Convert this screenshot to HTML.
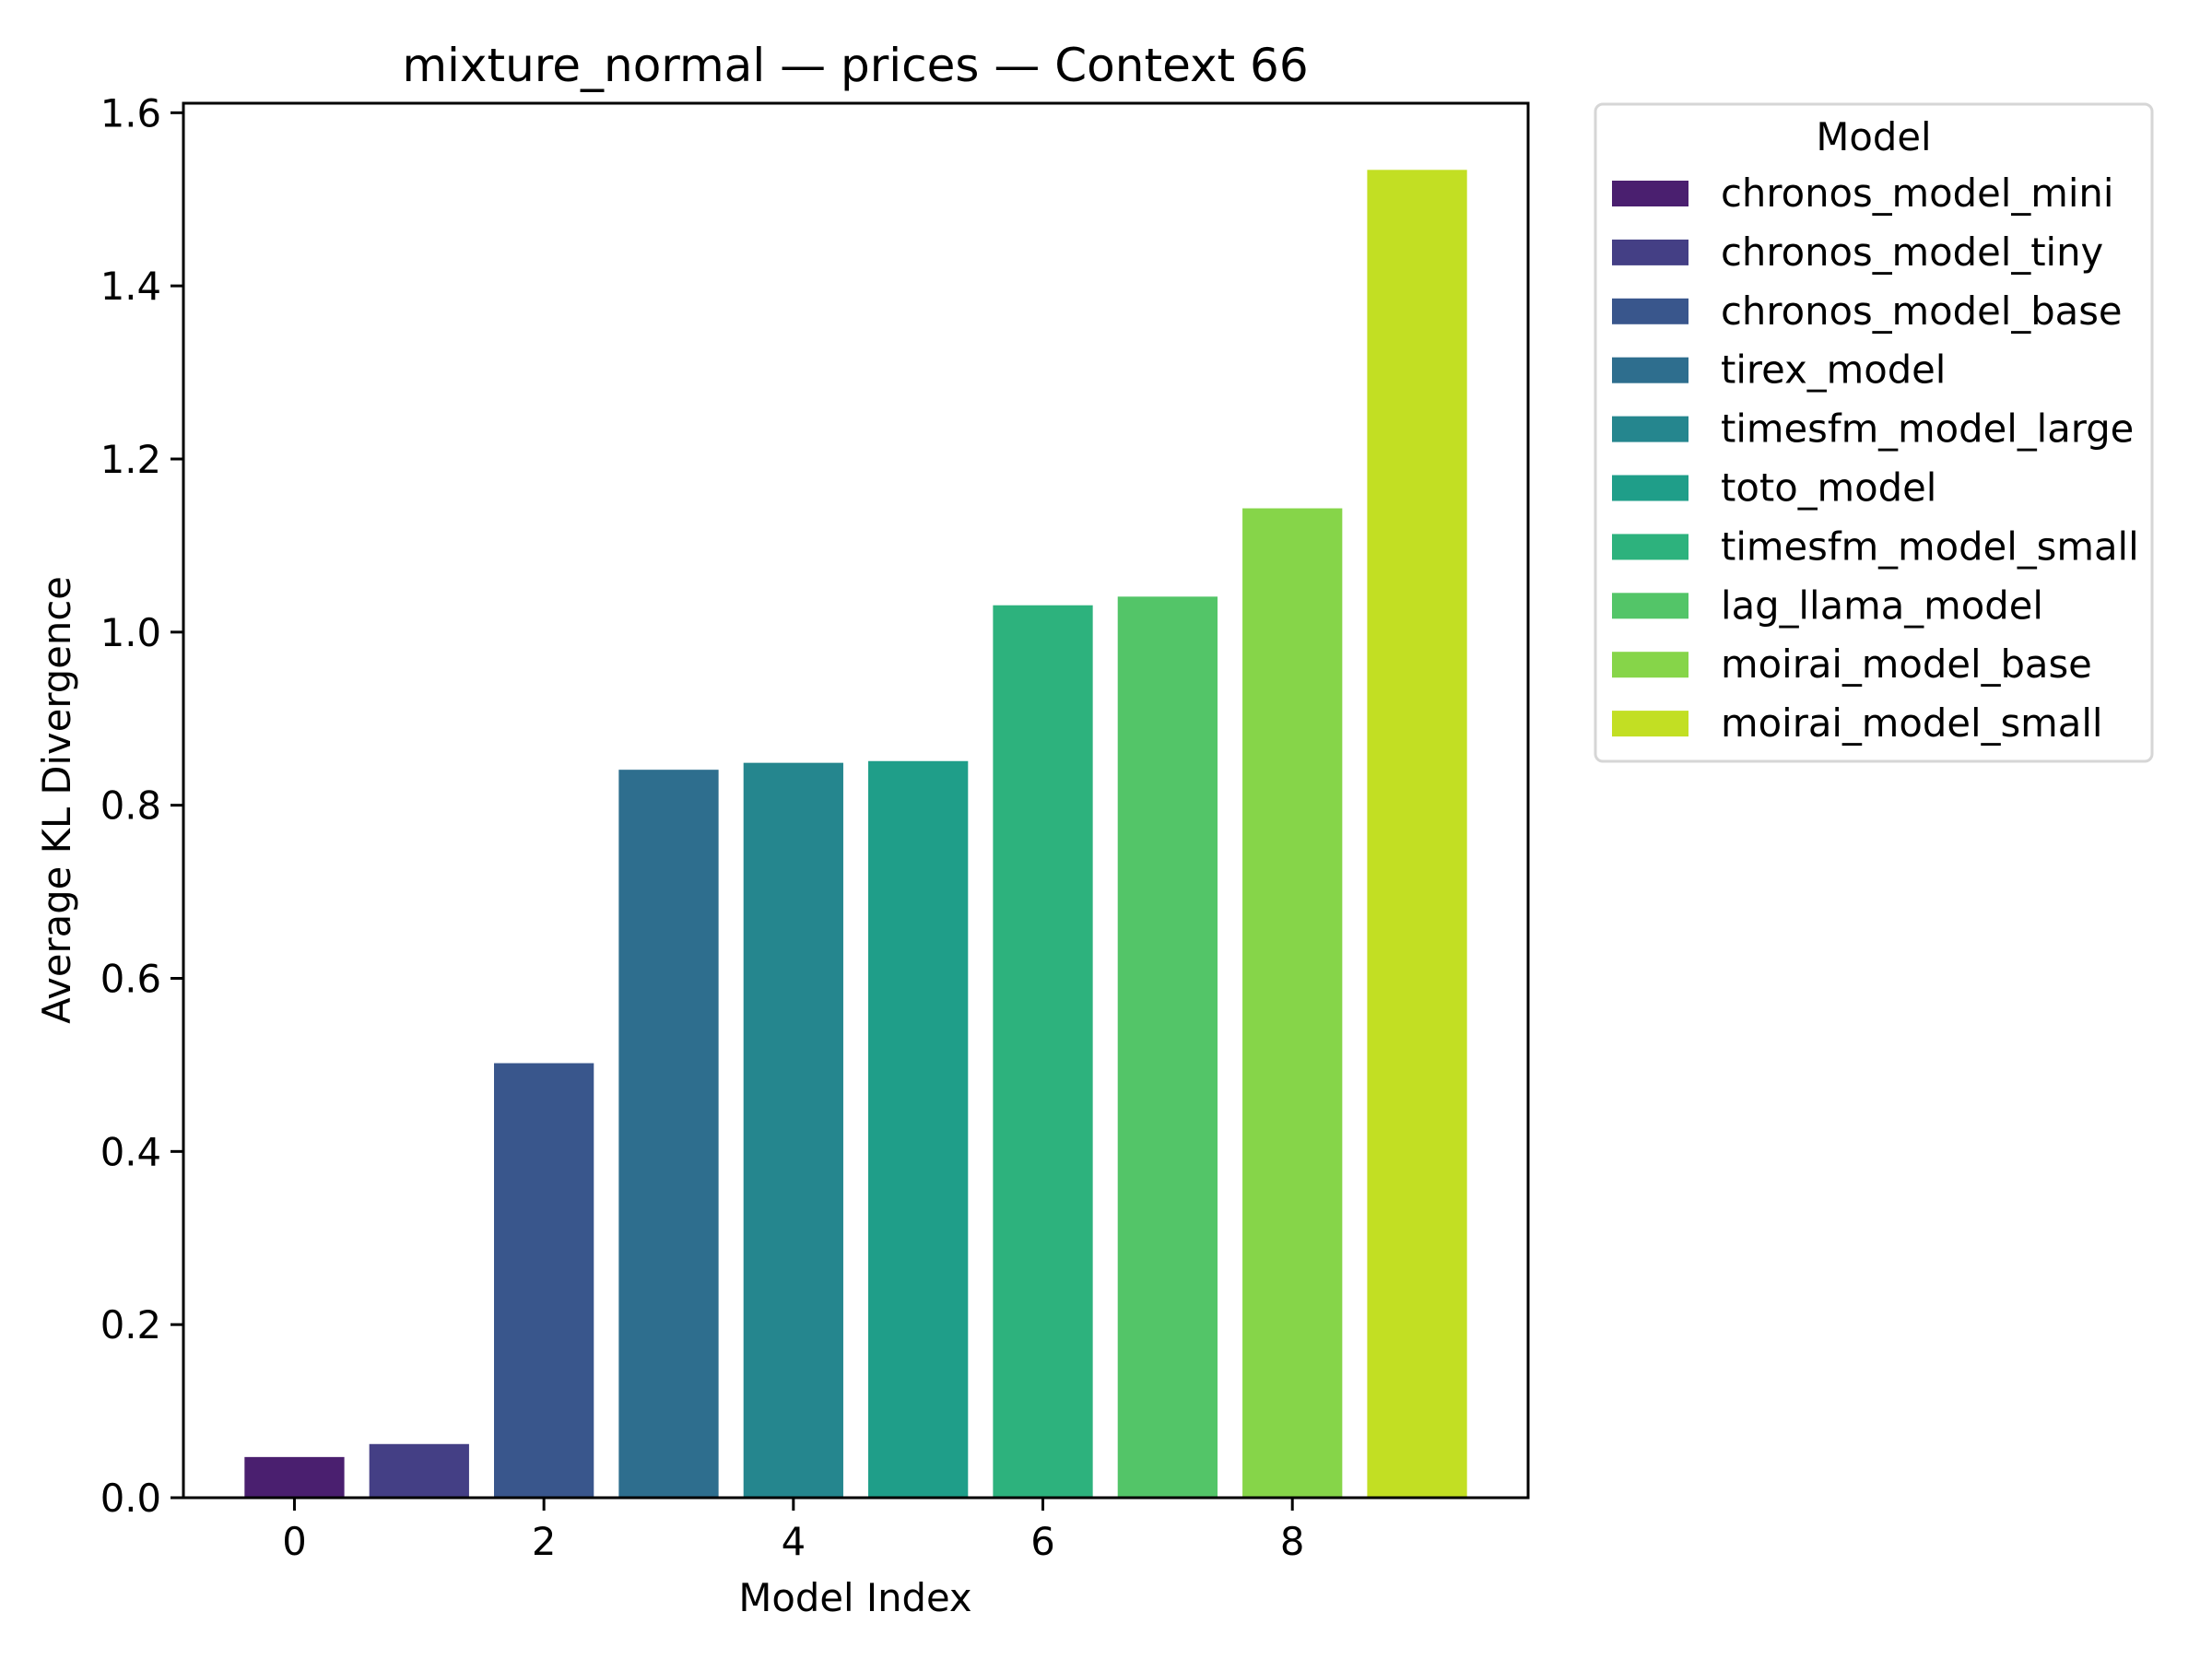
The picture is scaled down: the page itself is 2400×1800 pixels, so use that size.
<!DOCTYPE html>
<html><head><meta charset="utf-8">
<style>
html,body{margin:0;padding:0;background:#fff;}
svg{display:block;font-family:"DejaVu Sans","Liberation Sans",sans-serif;}
</style></head>
<body>
<svg id="chart" width="2400" height="1800" viewBox="0 0 2400 1800" xmlns="http://www.w3.org/2000/svg">
<rect x="0" y="0" width="2400" height="1800" fill="#fff"/>
<text x="928" y="88" font-size="50" text-anchor="middle">mixture_normal — prices — Context 66</text>
<g id="bars"></g>
<g id="yticks"></g>
<g id="xticks"></g>
<rect x="199" y="112" width="1459" height="1513" fill="none" stroke="#000" stroke-width="3"/>
<text x="928" y="1748" font-size="41.7" text-anchor="middle">Model Index</text>
<text x="0" y="0" font-size="41.7" text-anchor="middle" transform="translate(76,868) rotate(-90)">Average KL Divergence</text>
<g id="legend">
<rect x="1731" y="113" width="604" height="713" rx="8" fill="#fff" stroke="#d6d6d6" stroke-width="3"/>
<text x="2033" y="163" font-size="41.7" text-anchor="middle">Model</text>
</g>
</svg>
<script>
const categories = ["chronos_model_mini","chronos_model_tiny","chronos_model_base","tirex_model","timesfm_model_large","toto_model","timesfm_model_small","lag_llama_model","moirai_model_base","moirai_model_small"];
const values = [0.047, 0.062, 0.502, 0.841, 0.849, 0.851, 1.031, 1.041, 1.143, 1.534];
const colors = ["#4a1f6f","#443f85","#39568c","#2e6e8e","#25868e","#1f9e89","#2db27d","#53c568","#86d549","#c2df23"];
const yTicks = [0.0,0.2,0.4,0.6,0.8,1.0,1.2,1.4,1.6];
const xTicks = [0,2,4,6,8];

const NS = "http://www.w3.org/2000/svg";
const L=199,R=1658,T=112,B=1625;
const xMin=-0.89,xMax=9.89,yMin=0,yMax=1.611;
function xs(v){return L+(v-xMin)/(xMax-xMin)*(R-L);}
function ys(v){return B-(v-yMin)/(yMax-yMin)*(B-T);}
function mk(tag,attrs,parent){const e=document.createElementNS(NS,tag);for(const k in attrs)e.setAttribute(k,attrs[k]);parent.appendChild(e);return e;}

const gb=document.getElementById('bars');
values.forEach((v,i)=>{
  const r=mk('rect',{x:xs(i-0.4),y:ys(v),width:xs(i+0.4)-xs(i-0.4),height:ys(0)-ys(v),fill:colors[i]},gb);
  
  
});
const gy=document.getElementById('yticks');
yTicks.forEach(t=>{
  const y=ys(t);
  const l=mk('line',{x1:L-14,x2:L,y1:y,y2:y,stroke:'#000','stroke-width':3},gy);
  
  
  const tx=mk('text',{x:L-24,y:y+15,'font-size':41.7,'text-anchor':'end'},gy);
  tx.textContent=t.toFixed(1);
  
  
});
const gx=document.getElementById('xticks');
xTicks.forEach(t=>{
  const x=xs(t);
  const l=mk('line',{x1:x,x2:x,y1:B,y2:B+14,stroke:'#000','stroke-width':3},gx);
  
  
  const tx=mk('text',{x:x,y:1687,'font-size':41.7,'text-anchor':'middle'},gx);
  tx.textContent=String(t);
  
  
});
const gl=document.getElementById('legend');
categories.forEach((c,i)=>{
  const cy=210+i*63.9;
  const p=mk('rect',{x:1749,y:cy-14,width:83,height:28,fill:colors[i]},gl);
  
  
  const tx=mk('text',{x:1867,y:cy+14,'font-size':41.7},gl);
  tx.textContent=c;
  
  
});
</script>
</body></html>
